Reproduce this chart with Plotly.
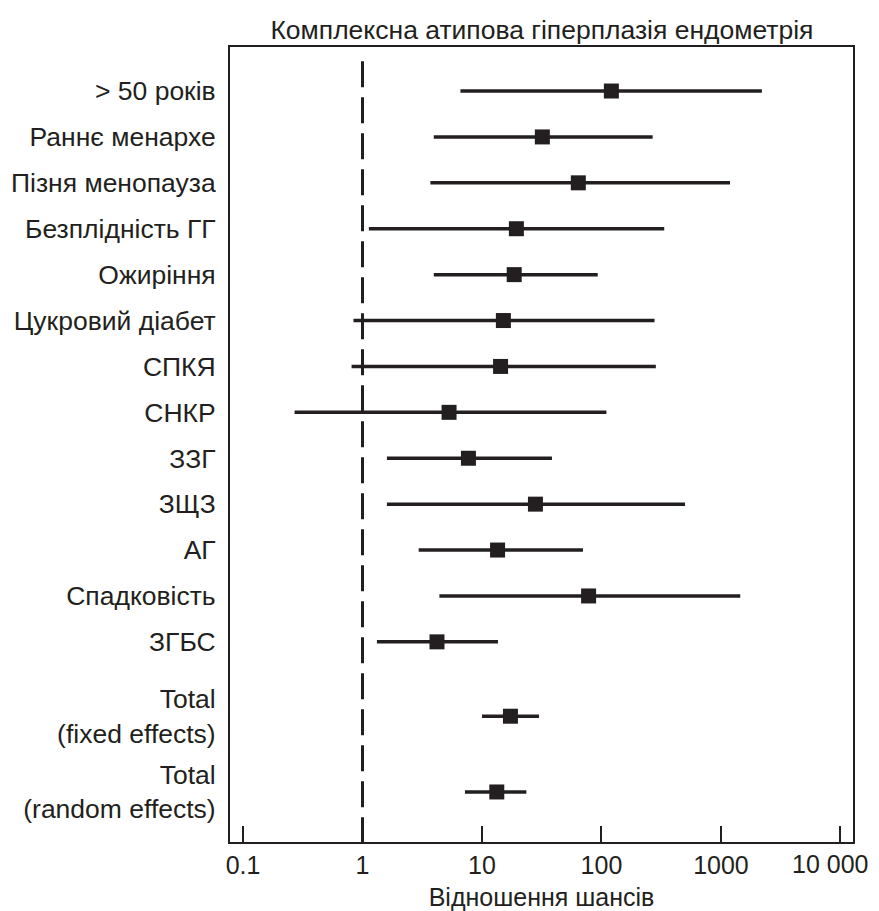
import math
import plotly.graph_objects as go

title_text = "Комплексна атипова гіперплазія ендометрія"
x_title = "Відношення шансів"

labels = ["> 50 років", "Раннє менархе", "Пізня менопауза", "Безплідність ГГ",
          "Ожиріння", "Цукровий діабет", "СПКЯ", "СНКР", "ЗЗГ", "ЗЩЗ", "АГ",
          "Спадковість", "ЗГБС", "Total<br>(fixed effects)", "Total<br>(random effects)"]
row_pos = [0, 1, 2, 3, 4, 5, 6, 7, 8, 9, 10, 11, 12, 13.62, 15.27]

odds = [121, 32, 64, 19.4, 18.6, 15.1, 14.3, 5.3, 7.7, 28, 13.5, 78, 4.2, 17.3, 13.3]
ci_low = [6.6, 3.95, 3.7, 1.13, 3.95, 0.84, 0.81, 0.27, 1.6, 1.6, 2.95, 4.4, 1.32, 10.0, 7.2]
ci_high = [2200, 268, 1190, 335, 93, 278, 285, 110, 38.5, 500, 70, 1450, 13.6, 30, 23.5]

tick_vals = [0.1, 1, 10, 100, 1000, 10000]
tick_text = ["0.1", "1", "10", "100", "1000", "10 000"]
ref_value = 1

ink = "#231f20"
font_family = "Liberation Sans, Arial, sans-serif"

err_plus = [h - o for h, o in zip(ci_high, odds)]
err_minus = [o - l for o, l in zip(odds, ci_low)]

fig = go.Figure()
fig.add_trace(go.Scatter(
    x=odds, y=row_pos, mode="markers",
    marker=dict(symbol="square", size=15, color=ink, line=dict(width=0)),
    error_x=dict(type="data", symmetric=False, array=err_plus, arrayminus=err_minus,
                 thickness=3.5, width=0, color=ink),
    showlegend=False, hoverinfo="skip",
))

fig.add_shape(type="line", xref="x", yref="paper", x0=ref_value, x1=ref_value,
              y0=0.982, y1=0, line=dict(color=ink, width=3, dash="26px,10px"))

# last tick label drawn as annotation so it can sit slightly left, inside the page
axis_text = tick_text[:-1] + [""]
fig.add_annotation(x=math.log10(tick_vals[-1]), xref="x", y=0, yref="paper",
                   text=tick_text[-1], showarrow=False, xanchor="center", yanchor="middle",
                   xshift=-10, yshift=-22, font=dict(size=25, color=ink))

fig.update_layout(
    width=871, height=903,
    margin=dict(l=222, r=26, t=39, b=69, autoexpand=False),
    paper_bgcolor="white", plot_bgcolor="white",
    font=dict(family=font_family, size=25, color=ink),
    title=dict(text=title_text, x=0.613, xanchor="center", y=0.9756, yanchor="middle",
               font=dict(size=26.5, color=ink)),
)
fig.update_xaxes(
    type="log", range=[-1.109, 4.105], automargin=False,
    tickvals=tick_vals, ticktext=axis_text, ticklabeloverflow="allow",
    ticks="inside", ticklen=16, tickwidth=2, tickcolor=ink,
    showline=True, linewidth=2, linecolor=ink, mirror=True,
    showgrid=False, zeroline=False,
    title=dict(text=x_title, standoff=12, font=dict(size=25, color=ink)),
    tickfont=dict(size=25, color=ink),
)
fig.update_yaxes(
    range=[16.36, -0.959], automargin=False,
    tickvals=row_pos, ticktext=labels, ticklabeloverflow="allow",
    ticks="", showline=True, linewidth=2, linecolor=ink, mirror=True,
    showgrid=False, zeroline=False, ticklabelstandoff=7,
    tickfont=dict(size=26.5, color=ink),
)

fig.write_html("out.html")
